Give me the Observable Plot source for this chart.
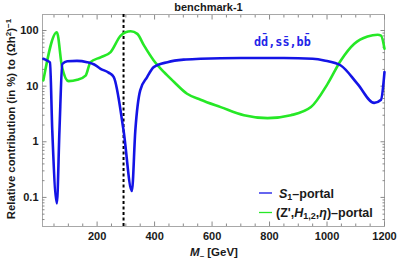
<!DOCTYPE html>
<html><head><meta charset="utf-8">
<script src="https://cdn.jsdelivr.net/npm/d3@7"></script>
<script src="https://cdn.jsdelivr.net/npm/@observablehq/plot@0.6"></script>
<style>body{margin:0;background:#fff}#chart svg{display:block}</style>
</head><body><div id="chart"></div><script>
// S1-portal (blue)
const massS1 = [13,25,36,44,60,69,79,96,130,165,190,212,240,258,292,321,333,350,374,397,445,501,560,700,850,950,990,1048,1106,1164,1188,1200];
const valS1  = [31,29,26.5,1.6,0.078,1.6,25,28,28.5,27,24.5,20.5,17.5,14.5,1.6,0.13,1.6,8.4,14.5,22,27,30,31,32,32,31,29,23.5,11,5,5.7,18];
// (Z',H12,eta)-portal (green)
const massZ = [13,60,78,101,131,160,177,212,247,282,299,317,340,363,397,432,467,513,560,630,711,793,874,944,1002,1048,1095,1141,1176,1188,1200];
const valZ  = [12.7,93,22,12.3,13,15.5,27,33,41,81,93,97,87,54,29,18,12,7.3,5.7,4.2,3.0,2.66,3.0,4.2,11,29,58,78,84,81,47];
const benchmarkMass = [292];
const xTicks = [200,400,600,800,1000,1200];
const xMinor = [50,100,150,250,300,350,450,500,550,650,700,750,850,900,950,1050,1100,1150];
const yTicks = [0.1,1,10,100];
const yTickLabels = ["0.1","1","10","100"];
const yMinor = [0.04,0.05,0.06,0.07,0.08,0.09,0.2,0.3,0.4,0.5,0.6,0.7,0.8,0.9,2,3,4,5,6,7,8,9,20,30,40,50,60,70,80,90];
const title = "benchmark-1";

const blue = "#1414e6", green = "#26e826";
const s1 = massS1.map((m,i)=>({m, v: valS1[i]}));
const zp = massZ.map((m,i)=>({m, v: valZ[i]}));
const tickCol = "#8a8a8a";
const lab = {fill:"#1a1a1a", fontSize: 11, fontWeight: "bold"};

const plot = Plot.plot({
  width: 399, height: 261,
  marginLeft: 42, marginRight: 15, marginTop: 14, marginBottom: 35,
  style: {fontFamily: "'Liberation Sans', Arial, sans-serif", background: "#fff", overflow: "visible"},
  x: {domain: [10,1200], label: null},
  y: {type: "log", domain: [0.03,194], label: null},
  marks: [
    Plot.frame({stroke: "#a8a8a8"}),
    Plot.axisX(xMinor, {anchor:"bottom", tickSize:-2.5, text:null, label:null, stroke:tickCol}),
    Plot.axisX(xTicks, {anchor:"bottom", tickSize:-4.5, text:null, label:null, stroke:tickCol}),
    Plot.axisX(xMinor, {anchor:"top", tickSize:-2.5, text:null, label:null, stroke:tickCol}),
    Plot.axisX(xTicks, {anchor:"top", tickSize:-4.5, text:null, label:null, stroke:tickCol}),
    Plot.axisY(yMinor, {anchor:"left", tickSize:-2.5, text:null, label:null, stroke:tickCol}),
    Plot.axisY(yTicks, {anchor:"left", tickSize:-4.5, text:null, label:null, stroke:tickCol}),
    Plot.axisY(yMinor, {anchor:"right", tickSize:-2.5, text:null, label:null, stroke:tickCol}),
    Plot.axisY(yTicks, {anchor:"right", tickSize:-4.5, text:null, label:null, stroke:tickCol}),
    Plot.axisX(xTicks, {anchor:"bottom", tickSize:0, tickPadding:6, label:null, tickFormat:d=>String(d), ...lab}),
    Plot.axisY(yTicks, {anchor:"left", tickSize:0, tickPadding:4, label:null, tickFormat:d=>yTickLabels[yTicks.indexOf(d)], ...lab}),
    Plot.ruleX(benchmarkMass, {stroke:"#000", strokeWidth:2, strokeDasharray:"3,2.5"}),
    Plot.line(zp, {x:"m", y:"v", stroke: green, strokeWidth: 2.6, curve: "monotone-x"}),
    Plot.line(s1, {x:"m", y:"v", stroke: blue, strokeWidth: 2.6, curve: "monotone-x"}),
    Plot.text([title], {frameAnchor:"top", dy:-4, lineAnchor:"bottom", text:d=>d, fontSize:11, fontWeight:"bold", fill:"#1a1a1a", dx:-5})
  ]
});
document.getElementById("chart").appendChild(plot);

const svg = d3.select(plot);
const font = "'Liberation Sans', Arial, sans-serif";
// Y label
const yl = svg.append("text").attr("transform","translate(15,119) rotate(-90)")
  .attr("text-anchor","middle").attr("font-family",font).attr("font-size",11.3).attr("font-weight","bold").attr("fill","#1a1a1a");
yl.append("tspan").text("Relative contribution (in %) to (Ωh");
yl.append("tspan").attr("dy",-4).attr("font-size",8).text("2");
yl.append("tspan").attr("dy",4).text(")");
yl.append("tspan").attr("dy",-4).attr("font-size",8).text("−1");
// X label
const xl = svg.append("text").attr("x",214).attr("y",256).attr("text-anchor","middle")
  .attr("font-family",font).attr("font-size",11.5).attr("font-weight","bold").attr("fill","#1a1a1a");
xl.append("tspan").attr("font-style","italic").text("M");
xl.append("tspan").attr("dy",2).attr("font-size",8).text("–");
xl.append("tspan").attr("dy",-2).text(" [GeV]");
// annotation
svg.append("text").attr("x",254).attr("y",46).attr("text-anchor","start").attr("font-family","'DejaVu Sans Mono', monospace")
  .attr("font-size",11.8).attr("font-weight","bold").attr("fill","#2424e8").text("dd\u0304,ss\u0304,bb\u0304");
// legend
const leg = [[blue,193],[green,212.5]];
leg.forEach(([c,y])=>{
  svg.append("line").attr("x1",259).attr("x2",272).attr("y1",y).attr("y2",y).attr("stroke",c).attr("stroke-width",1.3);
});
const lf = 12.5;
const t1 = svg.append("text").attr("x",279).attr("y",197.5).attr("text-anchor","start").attr("font-family",font).attr("font-size",lf).attr("font-weight","bold").attr("fill","#1a1a1a");
t1.append("tspan").attr("font-style","italic").text("S");
t1.append("tspan").attr("dy",2).attr("font-size",9).text("1");
t1.append("tspan").attr("dy",-2).text("–portal");
const t2 = svg.append("text").attr("x",276).attr("y",217).attr("text-anchor","start").attr("font-family",font).attr("font-size",lf).attr("font-weight","bold").attr("fill","#1a1a1a");
t2.append("tspan").text("(Z',");
t2.append("tspan").attr("font-style","italic").text("H");
t2.append("tspan").attr("dy",2).attr("font-size",9).text("1,2");
t2.append("tspan").attr("dy",-2).text(",");
t2.append("tspan").attr("font-style","italic").text("η");
t2.append("tspan").text(")–portal");
</script></body></html>
